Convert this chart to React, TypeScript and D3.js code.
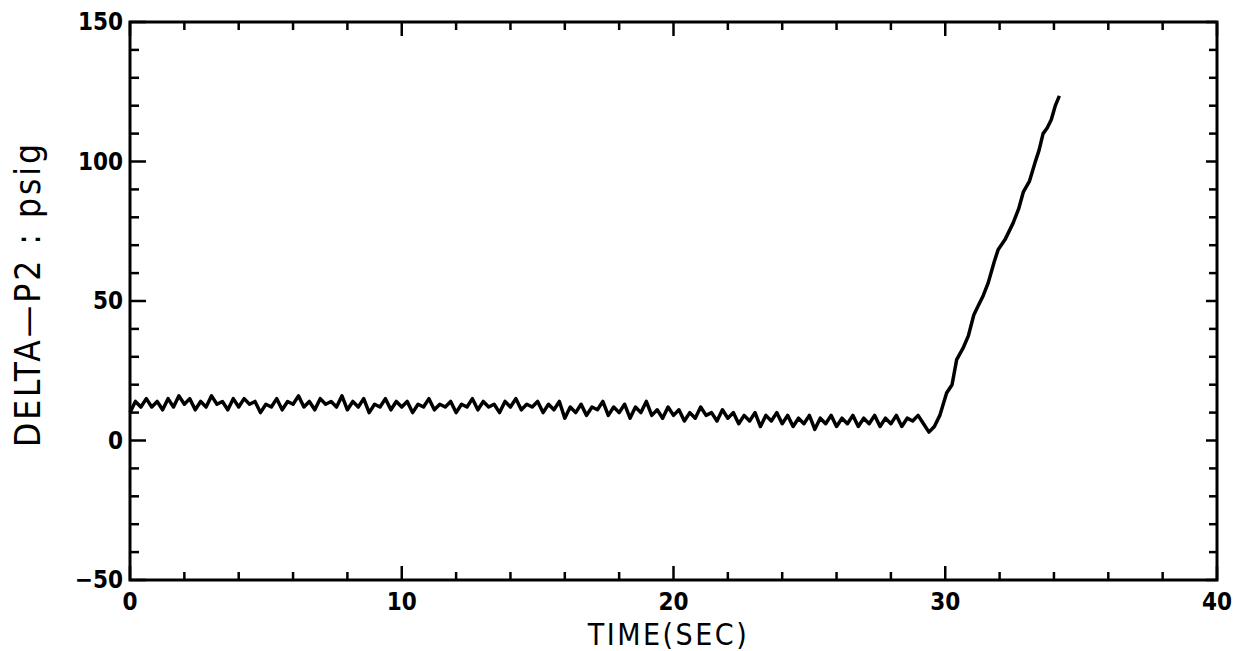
import React from "react";
import * as d3 from "d3";

// ---- data ----
const sampleStep = 0.2; // seconds between samples of the steady phase
const steadyValues: number[] = [
  10, 14, 12, 15, 12, 14, 11, 15, 12, 16,
  13, 15, 11, 14, 12, 16, 13, 14, 11, 15,
  12, 15, 13, 14, 10, 13, 12, 15, 11, 14,
  13, 16, 12, 14, 11, 15, 13, 14, 12, 16,
  11, 14, 12, 15, 10, 13, 12, 15, 11, 14,
  12, 14, 10, 13, 12, 15, 11, 13, 12, 14,
  10, 13, 12, 15, 11, 14, 12, 13, 10, 14,
  12, 15, 11, 13, 12, 14, 10, 13, 11, 14,
  8, 12, 10, 13, 9, 12, 11, 14, 9, 12,
  10, 13, 8, 12, 10, 14, 9, 11, 8, 12,
  9, 11, 7, 10, 8, 12, 9, 10, 7, 11,
  8, 10, 6, 9, 7, 10, 5, 9, 7, 10,
  6, 9, 5, 8, 6, 9, 4, 8, 6, 9,
  5, 8, 6, 9, 5, 8, 6, 9, 5, 8,
  6, 9, 5, 8, 7, 9, 6, 3,
];
const rampTimes: number[] = [29.6, 29.8, 30.05, 30.25, 30.42, 30.65, 30.85, 31.05, 31.2, 31.4, 31.58, 31.8, 31.95, 32.2, 32.5, 32.7, 32.87, 33.1, 33.3, 33.45, 33.6, 33.75, 33.9, 34.05, 34.2];
const rampValues: number[] = [5, 9, 17, 20, 29, 33, 37.5, 45, 48, 52, 56.5, 64, 68.5, 72, 78, 83, 89, 93, 99.5, 104, 110, 112, 115, 120, 123.5];

const xTickLabels = [0, 10, 20, 30, 40];
const yTickLabels = [-50, 0, 50, 100, 150];
const xTitle = "TIME(SEC)";
const yTitle = "DELTA\u2014P2 : psig";

// ---- layout ----
const W = 1246, H = 651;
const M = { left: 130, right: 1217, top: 22, bottom: 580 };
const FONT = "'DejaVu Sans Condensed', 'DejaVu Sans', sans-serif";

export default function App() {
  const x = d3.scaleLinear().domain([0, 40]).range([M.left, M.right]);
  const y = d3.scaleLinear().domain([-50, 150]).range([M.bottom, M.top]);

  const pts: [number, number][] = [
    ...steadyValues.map((v, i) => [i * sampleStep, v] as [number, number]),
    ...rampTimes.map((t, i) => [t, rampValues[i]] as [number, number]),
  ];
  const line = d3.line<[number, number]>().x((d) => x(d[0])).y((d) => y(d[1]));

  const xMinor = d3.range(0, 41, 2);
  const yMinor = d3.range(-50, 151, 10);

  return (
    <svg width={W} height={H} style={{ position: "absolute", left: 0, top: 0, background: "#fff" }}>
      <rect x={0} y={0} width={W} height={H} fill="#fff" />
      {/* frame */}
      <rect x={M.left} y={M.top} width={M.right - M.left} height={M.bottom - M.top} fill="none" stroke="#000" strokeWidth={3} />
      {/* x ticks bottom & top */}
      {xMinor.map((t) => {
        const major = t % 10 === 0;
        const len = major ? 14 : 8;
        return (
          <g key={"xt" + t}>
            <line x1={x(t)} x2={x(t)} y1={M.bottom} y2={M.bottom - len} stroke="#000" strokeWidth={2.5} />
            <line x1={x(t)} x2={x(t)} y1={M.top} y2={M.top + len} stroke="#000" strokeWidth={2.5} />
          </g>
        );
      })}
      {/* y ticks left & right */}
      {yMinor.map((v) => {
        const major = v % 50 === 0;
        const lenL = major ? 16 : 9;
        const lenR = major ? 11 : 8;
        return (
          <g key={"yt" + v}>
            <line x1={M.left} x2={M.left + lenL} y1={y(v)} y2={y(v)} stroke="#000" strokeWidth={2.5} />
            <line x1={M.right} x2={M.right - lenR} y1={y(v)} y2={y(v)} stroke="#000" strokeWidth={2.5} />
          </g>
        );
      })}
      {/* tick labels */}
      {xTickLabels.map((t) => (
        <text key={"xl" + t} x={x(t)} y={M.bottom + 30} textAnchor="middle" fontFamily={FONT} fontSize={24} fontWeight="bold">
          {t}
        </text>
      ))}
      {yTickLabels.map((v) => (
        <text key={"yl" + v} x={M.left - 7} y={y(v) + 8} textAnchor="end" fontFamily={FONT} fontSize={24} fontWeight="bold">
          {v === -50 ? "\u221250" : v}
        </text>
      ))}
      {/* axis titles */}
      <text x={(M.left + M.right) / 2 - 5} y={M.bottom + 65} textAnchor="middle" fontFamily={FONT} fontSize={30} letterSpacing={2.5}>
        {xTitle}
      </text>
      <text transform={`translate(40, ${(M.top + M.bottom) / 2 - 7}) rotate(-90)`} textAnchor="middle" fontFamily={FONT} fontSize={35} letterSpacing={3}>
        {yTitle}
      </text>
      {/* data */}
      <path d={line(pts) || ""} fill="none" stroke="#000" strokeWidth={3.5} strokeLinejoin="round" />
    </svg>
  );
}
